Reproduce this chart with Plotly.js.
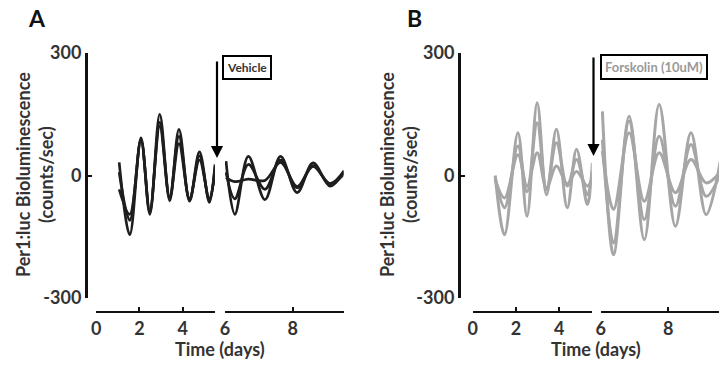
<!DOCTYPE html>
<html>
<head>
<meta charset="utf-8">
<script src="https://cdn.plot.ly/plotly-3.0.1.min.js"></script>
<style>html,body{margin:0;padding:0;background:#fff;}#chart{width:719px;height:370px;}</style>
</head>
<body>
<div id="chart"></div>
<script>
// ---- Data ----
// Panel A (Vehicle), before treatment (days)
const timeA_pre = [1.06, 1.55, 2.07, 2.48, 2.94, 3.40, 3.83, 4.32, 4.78, 5.24, 5.50];
const a1_pre = [32, -145, 92, -95, 150, -62, 113, -63, 58, -66, 27];
const a2_pre = [-34, -95, 86, -85, 121, -55, 78, -56, 38, -58, 12];
const a3_pre = [8, -110, 88, -90, 130, -52, 96, -60, 48, -62, 20];
// Panel A after treatment
const timeA_post = [6.03, 6.29, 6.69, 7.18, 7.64, 8.13, 8.60, 9.10, 9.52];
const a1_post = [35, -95, 47, -59, 47, -42, 31, -26, 10];
const a2_post = [8, -57, 27, -34, 38, -30, 22, -20, 4];
const a3_post = [-5, -15, -9, -12, 32, -27, 24, -20, 12];
// Panel B (Forskolin 10uM), before treatment
const timeB_pre = [1.04, 1.47, 2.09, 2.51, 2.98, 3.41, 3.87, 4.37, 4.80, 5.30, 5.53];
const b1_pre = [0, -145, 105, -100, 178, -47, 113, -79, 64, -71, 31];
const b2_pre = [-5, -79, 72, -40, 129, -35, 80, -26, 39, -47, 10];
const b3_pre = [-10, -55, 51, -26, 56, -30, 23, -20, 10, -26, -5];
// Panel B after treatment
const timeB_post = [6.05, 6.38, 6.84, 7.29, 7.73, 8.21, 8.67, 9.12, 9.55];
const b1_post = [157, -194, 145, -157, 174, -124, 105, -96, 40];
const b2_post = [88, -165, 133, -108, 96, -75, 76, -51, 5];
const b3_post = [60, -83, 105, -63, 56, -42, 39, -18, 10];

const xTicksPre = [0, 2, 4, 5.5];
const xLabelsPre = ['0', '2', '4', ''];
const xTicksPost = [6, 8, 9.5];
const xLabelsPost = ['6', '8', ''];
const yTicks = [-300, 0, 300];
const yLabels = ['-300', '0', '300'];

// ---- Styling ----
const W = 719, H = 370, T = 53, B = 58;
const plotH = H - T - B;
const px = v => v / W;
const py = v => (H - B - v) / plotH;
const FONT = 'Lato, "Open Sans", sans-serif';
const darkA = '#1e1e1e', grayB = '#a6a6a6';

function line(x, y, xa, ya, color, w) {
  return {x: x, y: y, xaxis: xa, yaxis: ya, type: 'scatter', mode: 'lines',
    line: {color: color, width: w, shape: 'spline', smoothing: 1}, hoverinfo: 'skip', showlegend: false};
}
const traces = [
  line(timeA_pre, a1_pre, 'x', 'y', darkA, 2.7),
  line(timeA_pre, a2_pre, 'x', 'y', darkA, 2.7),
  line(timeA_pre, a3_pre, 'x', 'y', darkA, 2.7),
  line(timeA_post, a1_post, 'x2', 'y', darkA, 2.7),
  line(timeA_post, a2_post, 'x2', 'y', darkA, 2.7),
  line(timeA_post, a3_post, 'x2', 'y', darkA, 2.7),
  line(timeB_pre, b1_pre, 'x3', 'y2', grayB, 3),
  line(timeB_pre, b2_pre, 'x3', 'y2', grayB, 3),
  line(timeB_pre, b3_pre, 'x3', 'y2', grayB, 3),
  line(timeB_post, b1_post, 'x4', 'y2', grayB, 3),
  line(timeB_post, b2_post, 'x4', 'y2', grayB, 3),
  line(timeB_post, b3_post, 'x4', 'y2', grayB, 3)
];

const tickFont = {family: FONT, size: 18, color: '#333', weight: 'bold'};
function xax(d0, d1, range, tv, tt) {
  return {domain: [px(d0), px(d1)], range: range, anchor: 'free', position: 0,
    showline: true, linecolor: '#111', linewidth: 2, ticks: 'inside', ticklen: 4, tickwidth: 2, tickcolor: '#111',
    tickvals: tv, ticktext: tt, tickfont: tickFont, showgrid: false, zeroline: false, fixedrange: true};
}
function yax(pos) {
  return {domain: [py(298), 1], range: [-300, 300], anchor: 'free', position: px(pos),
    showline: true, linecolor: '#111', linewidth: 2.5, ticks: 'inside', ticklen: 4, tickwidth: 2, tickcolor: '#111',
    tickvals: yTicks, ticktext: yLabels, tickfont: tickFont, showgrid: false, zeroline: false, fixedrange: true};
}

const titleFont = {family: FONT, size: 18, color: '#333', weight: 'bold'};
const xTitleFont = {family: FONT, size: 18, color: '#333', weight: 'bold'};
const annotations = [
  {text: 'A', x: px(37), y: py(18), xref: 'paper', yref: 'paper', showarrow: false, xanchor: 'center', yanchor: 'middle',
    font: {family: FONT, size: 23, color: '#111', weight: 'bold'}},
  {text: 'B', x: px(415), y: py(18), xref: 'paper', yref: 'paper', showarrow: false, xanchor: 'center', yanchor: 'middle',
    font: {family: FONT, size: 23, color: '#111', weight: 'bold'}},
  {text: 'Per1:luc Bioluminescence<br>(counts/sec)', textangle: -90, x: px(34), y: py(175), xref: 'paper', yref: 'paper',
    showarrow: false, xanchor: 'center', yanchor: 'middle', font: titleFont},
  {text: 'Per1:luc Bioluminescence<br>(counts/sec)', textangle: -90, x: px(398), y: py(175), xref: 'paper', yref: 'paper',
    showarrow: false, xanchor: 'center', yanchor: 'middle', font: titleFont},
  {text: 'Time (days)', x: px(220), y: py(349), xref: 'paper', yref: 'paper', showarrow: false, xanchor: 'center', yanchor: 'middle', font: xTitleFont},
  {text: 'Time (days)', x: px(596), y: py(349), xref: 'paper', yref: 'paper', showarrow: false, xanchor: 'center', yanchor: 'middle', font: xTitleFont},
  // arrows
  {text: '', x: px(217), y: py(158), xref: 'paper', yref: 'paper', showarrow: true, ax: 0, ay: -98,
    arrowhead: 2, arrowsize: 1.1, arrowwidth: 2.2, arrowcolor: '#000'},
  {text: '', x: px(593.5), y: py(156), xref: 'paper', yref: 'paper', showarrow: true, ax: 0, ay: -100,
    arrowhead: 2, arrowsize: 1.1, arrowwidth: 2.2, arrowcolor: '#000'},
  // boxes
  {text: 'Vehicle', x: px(246.5), y: py(67.5), xref: 'paper', yref: 'paper', showarrow: false, xanchor: 'center', yanchor: 'middle',
    font: {family: FONT, size: 12, color: '#333', weight: 'bold'}, bordercolor: '#000', borderwidth: 2, borderpad: 3, bgcolor: '#fff'},
  {text: 'Forskolin (10uM)', x: px(654), y: py(66.5), xref: 'paper', yref: 'paper', showarrow: false, xanchor: 'center', yanchor: 'middle',
    font: {family: FONT, size: 13, color: '#9a9a9a', weight: 'bold'}, bordercolor: '#000', borderwidth: 2, borderpad: 3, bgcolor: '#fff'}
];

const layout = {
  width: W, height: H,
  margin: {l: 0, r: 0, t: T, b: B, pad: 0},
  paper_bgcolor: '#fff', plot_bgcolor: 'rgba(0,0,0,0)',
  showlegend: false,
  xaxis: xax(96.3, 215, [0, 5.5], xTicksPre, xLabelsPre),
  xaxis2: xax(225, 343.5, [6, 9.5], xTicksPost, xLabelsPost),
  xaxis3: xax(472.7, 591.7, [0, 5.5], xTicksPre, xLabelsPre),
  xaxis4: xax(600.7, 719, [6, 9.5], xTicksPost, xLabelsPost),
  yaxis: yax(86),
  yaxis2: yax(459),
  annotations: annotations
};

Plotly.newPlot('chart', traces, layout, {staticPlot: true, displayModeBar: false});
</script>
</body>
</html>
